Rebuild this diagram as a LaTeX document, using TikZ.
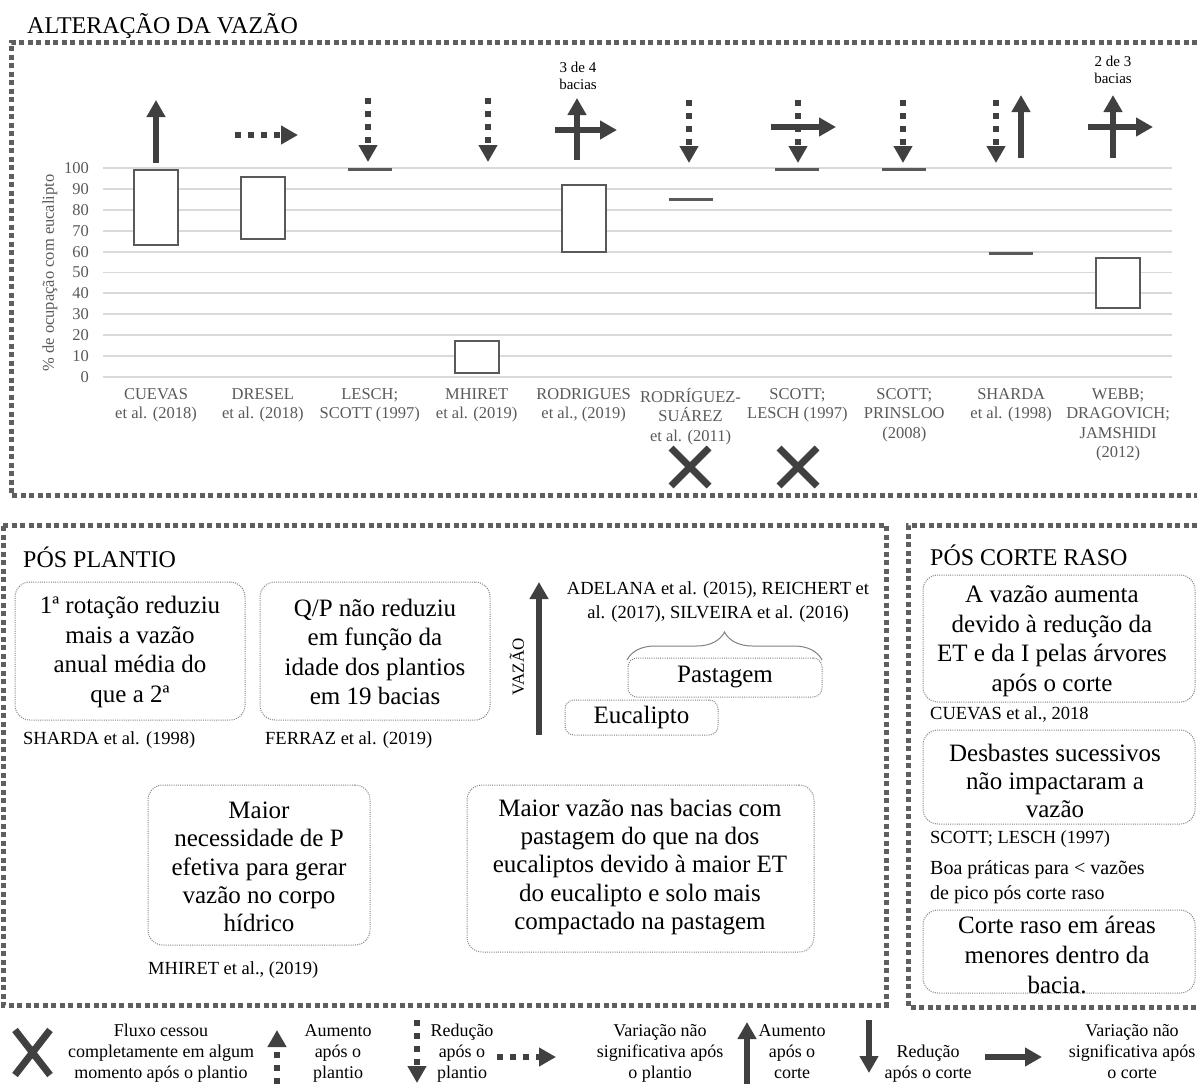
\documentclass[tikz,border=0pt]{standalone}
\usepackage{fontspec}
\setmainfont{Liberation Serif}
\usetikzlibrary{arrows.meta,decorations.pathreplacing}

\definecolor{arrowgray}{HTML}{404040}
\definecolor{framegray}{HTML}{5F5F5F}
\definecolor{gridgray}{HTML}{D9D9D9}
\definecolor{chartgray}{HTML}{595959}
\definecolor{notegray}{HTML}{808080}

\newcommand{\fs}[2]{\fontsize{#1}{#2}\selectfont}
% vertical position of a percentage value on the chart
\newcommand{\vy}[1]{376.7-2.084*#1}
% horizontal centre of category #1 (0..9)
\newcommand{\cx}[1]{156+106.9*#1}

\tikzset{
  frameline/.style={draw=framegray, line width=5pt, dash pattern=on 5pt off 3.5pt},
  notebox/.style={draw=notegray, line width=1pt, dash pattern=on 1pt off 1.2pt,
    rounded corners=15pt, inner sep=0pt},
  notetext/.style={align=center, font=\fs{25}{29.5}, inner sep=0pt},
  citetext/.style={anchor=west, font=\fs{18.5}{24}, inner sep=0pt},
  heading/.style={anchor=base west, font=\fs{24}{28}, inner sep=0pt},
  gridline/.style={draw=gridgray, line width=1.8pt},
  rangebox/.style={draw=chartgray, line width=2pt, fill=white},
  valueline/.style={draw=chartgray, line width=3pt},
  charttext/.style={text=chartgray, font=\fs{16.5}{19.5}, inner sep=0pt},
  solidarrow/.style={draw=arrowgray, line width=6pt, -{Triangle[length=17pt,width=18pt]}},
  dottedarrow/.style={solidarrow, dash pattern=on 6pt off 7pt},
  crossmark/.style={draw=arrowgray, line width=7pt},
  legendtext/.style={align=center, font=\fs{18}{21}, inner sep=0pt, anchor=north},
}

\begin{document}
\begin{tikzpicture}[x=1pt,y=-1pt]
\useasboundingbox (0,0) rectangle (1197,1084);

% ---------- frames ----------
\draw[frameline] (1197,42) -- (11,42) -- (11,495) -- (1197,495);
\draw[frameline] (3,525) -- (886,525) -- (886,1005) -- (3,1005) -- cycle;
\draw[frameline] (1197,525) -- (908,525) -- (908,1007) -- (1197,1007);

\node[heading] (title) at (27,33) {ALTERAÇÃO DA VAZÃO};

% ---------- chart: grid and axis ----------
\foreach \v in {0,10,...,100}{
  \draw[gridline] (103,{\vy{\v}}) -- (1172,{\vy{\v}});
  \node[charttext, anchor=east] (tick\v) at (89,{\vy{\v}}) {\v};
}
\node[charttext, rotate=90] (ytitle) at (50,273) {\% de ocupação com eucalipto};

\foreach \i/\txt in {
  0/{CUEVAS\\et al. (2018)},
  1/{DRESEL\\et al. (2018)},
  2/{LESCH;\\SCOTT (1997)},
  3/{MHIRET\\et al. (2019)},
  4/{RODRIGUES\\et al., (2019)},
  5/{RODRÍGUEZ-\\SUÁREZ\\et al. (2011)},
  6/{SCOTT;\\LESCH (1997)},
  7/{SCOTT;\\PRINSLOO\\(2008)},
  8/{SHARDA\\et al. (1998)},
  9/{WEBB;\\DRAGOVICH;\\JAMSHIDI\\(2012)}}{
  \node[charttext, align=center, anchor=north] (cat\i) at ({\cx{\i}},388) {\txt};
}

% ranges of eucalyptus occupation
\draw[rangebox] ({\cx{0}-22},{\vy{99}}) rectangle ({\cx{0}+22},{\vy{63}});
\draw[rangebox] ({\cx{1}-22},{\vy{96}}) rectangle ({\cx{1}+22},{\vy{66}});
\draw[valueline] ({\cx{2}-22},{\vy{99.5}}) -- ({\cx{2}+22},{\vy{99.5}});
\draw[rangebox] ({\cx{3}-22},{\vy{17}}) rectangle ({\cx{3}+22},{\vy{2}});
\draw[rangebox] ({\cx{4}-22},{\vy{92}}) rectangle ({\cx{4}+22},{\vy{60}});
\draw[valueline] ({\cx{5}-22},{\vy{85}}) -- ({\cx{5}+22},{\vy{85}});
\draw[valueline] ({\cx{6}-22},{\vy{99.5}}) -- ({\cx{6}+22},{\vy{99.5}});
\draw[valueline] ({\cx{7}-22},{\vy{99.5}}) -- ({\cx{7}+22},{\vy{99.5}});
\draw[valueline] ({\cx{8}-22},{\vy{59}}) -- ({\cx{8}+22},{\vy{59}});
\draw[rangebox] ({\cx{9}-22},{\vy{57}}) rectangle ({\cx{9}+22},{\vy{33}});

% ---------- chart: direction of flow change ----------
\draw[solidarrow] (156,163) -- (156,100);
\draw[dottedarrow] (235,135) -- (298,135);
\draw[dottedarrow] (368,98) -- (368,162);
\draw[dottedarrow] (488,98) -- (488,162);
\draw[solidarrow] (577,160) -- (577,98);
\draw[solidarrow] (555,130) -- (617,130);
\node[align=center, font=\fs{15}{17}, inner sep=0pt] (n34) at (578,76) {3 de 4\\bacias};
\draw[dottedarrow] (689,100) -- (689,163);
\draw[dottedarrow] (798,100) -- (798,163);
\draw[solidarrow] (771,127) -- (836,127);
\draw[dottedarrow] (903,100) -- (903,163);
\draw[dottedarrow] (996,100) -- (996,163);
\draw[solidarrow] (1021,158) -- (1021,95);
\draw[solidarrow] (1113,158) -- (1113,95);
\draw[solidarrow] (1088,127) -- (1153,127);
\node[align=center, font=\fs{15}{17}, inner sep=0pt] (n23) at (1113,70) {2 de 3\\bacias};

% flow ceased
\draw[crossmark] (671,448) -- (709,486) (671,486) -- (709,448);
\draw[crossmark] (779,448) -- (817,486) (779,486) -- (817,448);

% ---------- PÓS PLANTIO ----------
\node[heading] (pp) at (23,567) {PÓS PLANTIO};

\node[notebox, minimum width=230pt, minimum height=138pt] (b1) at (130,651) {};
\node[notetext] (t1) at (130,652) {1ª rotação reduziu\\mais a vazão\\anual média do\\que a 2ª};
\node[citetext] (c1) at (23,740) {SHARDA et al. (1998)};

\node[notebox, minimum width=230pt, minimum height=138pt] (b2) at (375,651) {};
\node[notetext] (t2) at (375,652) {Q/P não reduziu\\em função da\\idade dos plantios\\em 19 bacias};
\node[citetext] (c2) at (265,740) {FERRAZ et al. (2019)};

\node[notebox, minimum width=222pt, minimum height=160pt] (b3) at (259,865) {};
\node[notetext, font=\fs{25}{28.2}] (t3) at (259,867) {Maior\\necessidade de P\\efetiva para gerar\\vazão no corpo\\hídrico};
\node[citetext] (c3) at (148,970) {MHIRET et al., (2019)};

\node[notebox, minimum width=347pt, minimum height=167pt] (b4) at (640.5,868.5) {};
\node[notetext, font=\fs{25}{28.2}] (t4) at (640,867) {Maior vazão nas bacias com\\pastagem do que na dos\\eucaliptos devido à maior ET\\do eucalipto e solo mais\\compactado na pastagem};

% flow: eucalyptus versus pasture
\coordinate (vb) at (539,735);
\coordinate (vt) at (539,582);
\draw[solidarrow] (vb) -- (vt);
\node[rotate=90, font=\fs{17}{20}, inner sep=0pt] (vazao) at (517,667) {VAZÃO};
\node[align=center, font=\fs{18.5}{24}, inner sep=0pt] (refs) at (718,602)
  {ADELANA et al. (2015), REICHERT et\\al. (2017), SILVEIRA et al. (2016)};
\coordinate (brl) at (627,660);
\coordinate (brr) at (822,660);
\draw[notegray, line width=1pt, decorate, decoration={brace, amplitude=28pt}] (brl) -- (brr);
\node[notebox, rounded corners=9pt, minimum width=194pt, minimum height=39pt,
  font=\fs{25}{29}] (pasto) at (725,677.5) {Pastagem};
\node[notebox, rounded corners=9pt, minimum width=153pt, minimum height=35pt,
  font=\fs{25}{29}] (euca) at (641.5,717.5) {Eucalipto};

% ---------- PÓS CORTE RASO ----------
\node[heading] (pc) at (930,565) {PÓS CORTE RASO};

\node[notebox, minimum width=272pt, minimum height=127pt] (b5) at (1059,638.5) {};
\node[notetext] (t5) at (1052,641) {A vazão aumenta\\devido à redução da\\ET e da I pelas árvores\\após o corte};
\node[citetext] (c5) at (930,714) {CUEVAS et al., 2018};

\node[notebox, minimum width=272pt, minimum height=94pt] (b6) at (1059,777) {};
\node[notetext, font=\fs{25}{28}] (t6) at (1055,781) {Desbastes sucessivos\\não impactaram a\\vazão};
\node[citetext] (c6) at (930,839) {SCOTT; LESCH (1997)};

\node[anchor=north west, align=left, font=\fs{20}{25}, inner sep=0pt] (boa) at (930,860)
  {Boa práticas para < vazões\\de pico pós corte raso};

\node[notebox, minimum width=272pt, minimum height=83pt] (b8) at (1059,951.5) {};
\node[notetext, font=\fs{25}{30}] (t8) at (1057,955) {Corte raso em áreas\\menores dentro da\\bacia.};

% ---------- legend ----------
\draw[crossmark] (15,1030) -- (50,1075) (15,1075) -- (50,1030);
\node[legendtext] (l1) at (161,1024) {Fluxo cessou\\completamente em algum\\momento após o plantio};

\draw[dottedarrow] (277,1084) -- (277,1030);
\node[legendtext] (l2) at (338,1024) {Aumento\\após o\\plantio};

\draw[dottedarrow] (417,1020) -- (417,1083);
\node[legendtext] (l3) at (462,1024) {Redução\\após o\\plantio};

\draw[dottedarrow] (497,1057) -- (556,1057);
\node[legendtext] (l4) at (660,1024) {Variação não\\significativa após\\o plantio};

\draw[solidarrow] (747,1084) -- (747,1022);
\node[legendtext] (l5) at (792,1024) {Aumento\\após o\\corte};

\draw[solidarrow] (869,1020) -- (869,1073);
\node[legendtext] (l6) at (928,1045) {Redução\\após o corte};

\draw[solidarrow] (985,1057) -- (1042,1057);
\node[legendtext] (l7) at (1132,1024) {Variação não\\significativa após\\o corte};

\end{tikzpicture}
\end{document}
